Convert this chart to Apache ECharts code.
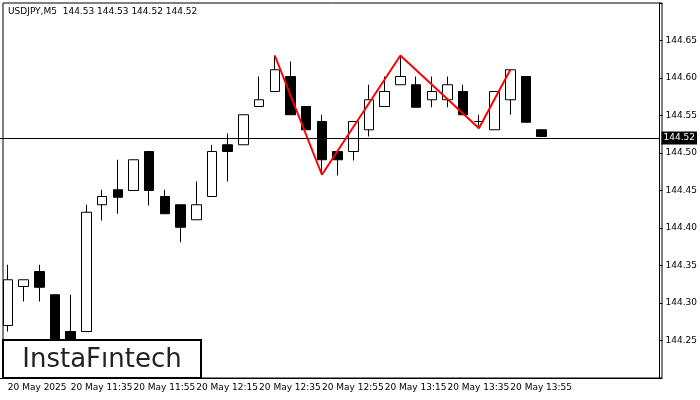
<!DOCTYPE html>
<html><head><meta charset="utf-8">
<script src="https://cdn.jsdelivr.net/npm/echarts@6/dist/echarts.min.js"></script>
<style>html,body{margin:0;padding:0;background:#fff}#c{width:700px;height:400px}</style>
</head><body><div id="c"></div>
<script>
const opens  = [144.270,144.322,144.342,144.311,144.262,144.262,144.431,144.451,144.450,144.502,144.442,144.431,144.411,144.442,144.511,144.511,144.562,144.582,144.602,144.562,144.542,144.502,144.502,144.531,144.562,144.591,144.591,144.571,144.571,144.582,144.542,144.531,144.571,144.602,144.531];
const highs  = [144.351,144.331,144.351,144.311,144.311,144.431,144.451,144.491,144.491,144.502,144.451,144.431,144.462,144.511,144.526,144.551,144.602,144.630,144.622,144.562,144.551,144.502,144.542,144.591,144.602,144.630,144.602,144.602,144.602,144.591,144.551,144.582,144.611,144.602,144.531];
const lows   = [144.262,144.302,144.302,144.210,144.230,144.262,144.410,144.419,144.450,144.430,144.419,144.381,144.411,144.442,144.462,144.511,144.562,144.582,144.551,144.531,144.473,144.470,144.490,144.522,144.562,144.591,144.561,144.561,144.561,144.551,144.533,144.531,144.551,144.541,144.522];
const closes = [144.331,144.331,144.321,144.220,144.240,144.421,144.442,144.441,144.491,144.450,144.419,144.401,144.431,144.502,144.502,144.551,144.571,144.611,144.551,144.531,144.491,144.491,144.542,144.571,144.582,144.602,144.561,144.582,144.591,144.551,144.542,144.582,144.611,144.541,144.522];
const patternIdx = [17,20,25,30,32];
const patternVal = [144.630,144.471,144.630,144.533,144.611];
const currentPrice = 144.522;
const nCats = 42;
const lastLabelIdx = 32;
const cats = [];
for (let i=0;i<nCats;i++){const m=11*60+15+5*i;cats.push(i===0?'20 May 2025':'20 May '+Math.floor(m/60)+':'+String(m%60).padStart(2,'0'));}
const ohlc = opens.map((o,i)=>[o,closes[i],lows[i],highs[i]]);
const zig = new Array(nCats).fill(null);
patternIdx.forEach((k,j)=>zig[k]=patternVal[j]);
const ch = echarts.init(document.getElementById('c'),null,{renderer:'canvas'});
const ff='DejaVu Sans, sans-serif';
ch.setOption({
  animation:false,
  grid:{left:-3,right:38,top:3,bottom:22},
  xAxis:{type:'category',data:cats,boundaryGap:true,
    axisLine:{lineStyle:{color:'#000'}},
    axisTick:{alignWithLabel:true,interval:3,length:3,lineStyle:{color:'#000'}},
    axisLabel:{interval:3,align:'left',color:'#000',fontSize:9,fontFamily:ff,margin:5,
      formatter:(v,i)=>i>lastLabelIdx?'':v},
    splitLine:{show:false}},
  yAxis:{type:'value',position:'right',min:144.2,max:144.7,interval:0.05,
    axisLine:{show:true,lineStyle:{color:'#000'}},
    axisTick:{show:true,length:3,lineStyle:{color:'#000'}},
    axisLabel:{color:'#000',fontSize:9,fontFamily:ff,margin:6,
      formatter:v=>(v<144.22||v>144.68)?'':v.toFixed(2)},
    splitLine:{show:false}},
  graphic:[
    {type:'rect',shape:{x:3,y:3,width:659,height:375},style:{fill:'none',stroke:'#000',lineWidth:1},z:100},
    {type:'text',left:8,top:7,style:{text:'USDJPY,M5  144.53 144.53 144.52 144.52',font:'9px '+ff,fill:'#000'},z:101},
    {type:'rect',shape:{x:3,y:340,width:198,height:38},style:{fill:'#fff',stroke:'#000',lineWidth:2},z:102},
    {type:'text',x:102,y:360,style:{text:'InstaFıntech',font:'26px '+ff,fill:'#222',align:'center',verticalAlign:'middle'},z:103}
  ],
  series:[
    {type:'candlestick',data:ohlc,barWidth:10,
      itemStyle:{color:'#fff',color0:'#000',borderColor:'#000',borderColor0:'#000',borderWidth:1},
      markLine:{symbol:'none',silent:true,data:[{yAxis:currentPrice}],
        lineStyle:{color:'#000',width:1,type:'solid'},
        label:{position:'end',formatter:'144.52',backgroundColor:'#000',color:'#fff',fontSize:9,fontFamily:ff,padding:[2,2],distance:2}}},
    {type:'line',data:zig,connectNulls:true,symbol:'none',lineStyle:{color:'#ff0000',width:2},z:5}
  ]
});
</script></body></html>
